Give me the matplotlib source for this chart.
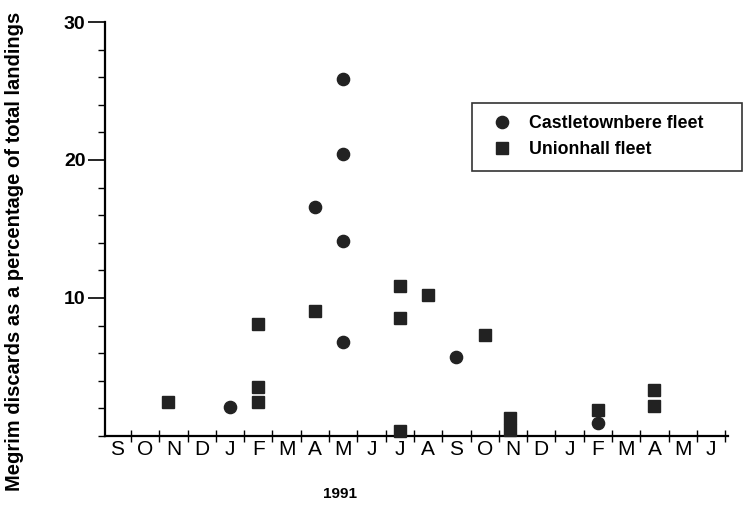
import numpy as np
import matplotlib.pyplot as plt
from matplotlib.ticker import FixedLocator, MultipleLocator

plt.rcParams['font.family'] = ['Liberation Sans', 'DejaVu Sans']

# Месяцы на оси X (сентябрь 1990 - июнь 1992)
months = ['S', 'O', 'N', 'D', 'J', 'F', 'M', 'A', 'M', 'J', 'J',
          'A', 'S', 'O', 'N', 'D', 'J', 'F', 'M', 'A', 'M', 'J']

# Castletownbere fleet (номер месяца, %)
castle_x = [4, 7, 8, 8, 8, 8, 12, 17]
castle_y = [2.1, 16.6, 25.9, 20.4, 14.1, 6.8, 5.7, 0.95]

# Unionhall fleet
union_x = [1.8, 5, 5, 5, 7, 10, 10, 10, 11, 13, 13.9, 13.9, 17, 19, 19]
union_y = [2.5, 8.1, 3.55, 2.5, 9.05, 10.9, 8.55, 0.33, 10.2, 7.3, 1.3, 0.45, 1.9, 3.3, 2.2]

fig = plt.figure(figsize=(7.43, 5.08), dpi=100)
ax = fig.add_axes([105 / 743, 72 / 508, 623 / 743, 414 / 508])

mark_col = '#222222'
ax.plot(castle_x, castle_y, 'o', ms=8.8, color=mark_col, mec=mark_col,
        label='Castletownbere fleet', clip_on=False, zorder=3)
ax.plot(union_x, union_y, 's', ms=8.6, color=mark_col, mec=mark_col,
        label='Unionhall fleet', clip_on=False, zorder=3)

ax.set_xlim(-0.42, 21.6)
ax.set_ylim(0, 30)

for s in ['top', 'right']:
    ax.spines[s].set_visible(False)
for s in ['left', 'bottom']:
    ax.spines[s].set_linewidth(1.6)

# Ось X: буквы месяцев по центрам, риски на границах
ax.set_xticks(np.arange(len(months)))
ax.set_xticklabels(months, fontsize=15)
ax.xaxis.set_minor_locator(FixedLocator(np.arange(len(months)) + 0.5))
ax.tick_params(axis='x', which='major', length=0, pad=3)
ax.tick_params(axis='x', which='minor', direction='inout', length=9, width=1)

# Ось Y
ax.set_yticks([10, 20, 30])
ax.set_yticklabels(['10', '20', '30'], fontsize=14, fontweight='bold')
ax.yaxis.set_minor_locator(MultipleLocator(2))
ax.tick_params(axis='y', which='major', direction='out', length=12, width=1.2, pad=2)
ax.tick_params(axis='y', which='minor', direction='out', length=5, width=1)

fig.text(15 / 743, 0.506, 'Megrim discards as a percentage of total landings',
         rotation=90, ha='center', va='center', fontsize=14.5, fontweight='bold')
fig.text(340 / 743, 14 / 508, '1991', ha='center', va='center', fontsize=11,
         fontweight='bold')

leg = ax.legend(loc='upper left', bbox_to_anchor=(472 / 743, 1 - 173 / 508, 270 / 743, 70 / 508),
                bbox_transform=fig.transFigure, mode='expand',
                prop={'size': 12.8, 'weight': 'bold'},
                numpoints=1, frameon=True, fancybox=False, handletextpad=0.5,
                borderpad=0.7, labelspacing=0.5, borderaxespad=0)
leg.get_frame().set_edgecolor('black')
leg.get_frame().set_linewidth(1.2)

plt.savefig('out.png', dpi=100)
